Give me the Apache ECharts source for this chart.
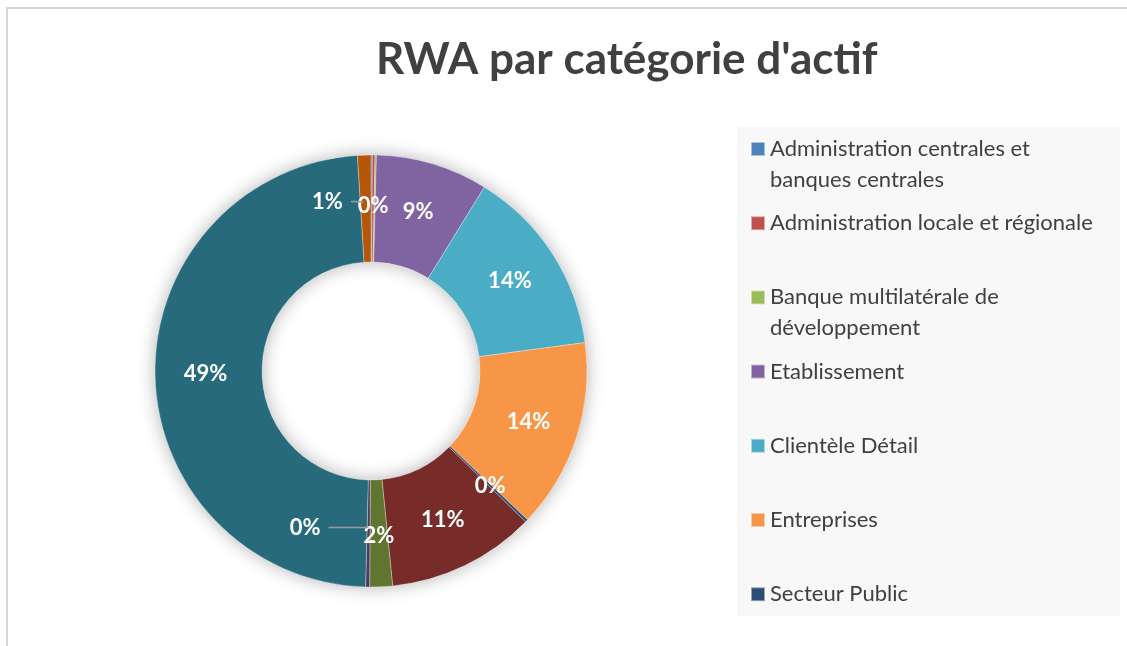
<!DOCTYPE html>
<html>
<head>
<meta charset="utf-8">
<script src="https://cdn.jsdelivr.net/npm/echarts@6/dist/echarts.min.js"></script>
<style>
  html, body { margin: 0; padding: 0; background: #fff; }
  #chart { width: 1127px; height: 646px; }
</style>
</head>
<body>
<div id="chart"></div>
<script>
const categories = [
  'Administration centrales et banques centrales',
  'Administration locale et régionale',
  'Banque multilatérale de développement',
  'Etablissement',
  'Clientèle Détail',
  'Entreprises',
  'Secteur Public',
  'Expositions garanties par une hypothèque',
  'Expositions en défaut',
  'Expositions à risque élevé',
  'Autres actifs',
  'Actions'
]
const values = [0.1, 0.2, 0.1, 8.4, 14.1, 14.2, 0.2, 11.1, 1.7, 0.3, 48.6, 1.0]
const colors = ['#4F81BD', '#C0504D', '#9BBB59', '#8064A2', '#4BACC6', '#F79646',
  '#2C4D75', '#772C2A', '#5F7530', '#4D3B62', '#276A7C', '#B65708']
// la légende d'origine ne montre que les 7 premières catégories
const legendNames = categories.slice(0, 7)
const wrapped = {
  'Administration centrales et banques centrales': 'Administration centrales et\nbanques centrales',
  'Banque multilatérale de développement': 'Banque multilatérale de\ndéveloppement'
}
const hiddenLabels = [0, 2]   // superposées avec celle de l'index 1

const CX = 371, CY = 371, R0 = 109, R1 = 216
const total = values.reduce((a, b) => a + b, 0)

// milieu de l'anneau pour la part i
function midPoint (i) {
  let before = 0
  for (let k = 0; k < i; k++) before += values[k]
  const a = (before + values[i] / 2) / total * Math.PI * 2
  const r = (R0 + R1) / 2
  return [CX + r * Math.sin(a), CY - r * Math.cos(a)]
}

const labelFont = { fontFamily: 'Lato', fontWeight: 'bold', fontSize: 22, color: '#fff' }

const chart = echarts.init(document.getElementById('chart'))

const option = {
  backgroundColor: '#fff',
  title: {
    text: "RWA par catégorie d'actif",
    left: 376,
    top: 38,
    padding: 0,
    textStyle: { fontFamily: 'Lato', fontWeight: 'bold', fontSize: 44, color: '#404040' }
  },
  graphic: [
    { type: 'rect', z: 0, silent: true, shape: { x: 7, y: 8, width: 1400, height: 1000 },
      style: { fill: 'none', stroke: '#c8c8c8', lineWidth: 1.5 } },
    { type: 'rect', z: 0, silent: true, shape: { x: 737, y: 127, width: 383, height: 489 },
      style: { fill: '#f8f8f8' } },
    { type: 'ring', z: 0, silent: true, shape: { cx: CX, cy: CY, r: R1, r0: R0 },
      style: { fill: '#fff', shadowBlur: 18, shadowColor: 'rgba(0,0,0,0.3)' } }
  ],
  legend: legendNames.map((name, i) => {
    const twoLines = !!wrapped[name]
    const iconY = 149 + i * 74.2
    return {
      data: [name],
      orient: 'vertical',
      left: 750,
      top: iconY - (twoLines ? 46.5 : 15.5),
      padding: 0,
      itemWidth: 14,
      itemHeight: 14,
      icon: 'rect',
      selectedMode: false,
      // ligne vide en tête : la 1re ligne du texte reste centrée sur le carré
      formatter: n => wrapped[n] ? '\n' + wrapped[n] : n,
      textStyle: { fontFamily: 'Lato', fontSize: 22, color: '#404040', lineHeight: 31 }
    }
  }),
  series: [{
    type: 'pie',
    center: [CX, CY],
    radius: [R0, R1],
    startAngle: 90,
    clockwise: true,
    percentPrecision: 0,
    avoidLabelOverlap: false,
    emphasis: { scale: false },
    itemStyle: { borderColor: 'rgba(255,255,255,0.5)', borderWidth: 0.6 },
    label: {
      show: true,
      position: 'inside',
      formatter: function (p) {
        if (p.dataIndex === 11 || p.dataIndex === 9) return '{v|' + p.percent + '%}{g|}{l|}'
        return '{v|' + p.percent + '%}'
      },
      rich: {
        v: labelFont,
        g: { width: 8, height: 2 },
        l: { width: 12, height: 1.6, backgroundColor: '#9a9a9a' }
      }
    },
    labelLine: { show: false },
    labelLayout: function (params) {
      const i = params.dataIndex
      if (i === 11) {
        const [x, y] = midPoint(i)
        return { x: x - 3, y: y - 7, align: 'right', verticalAlign: 'middle' }
      }
      if (i === 9) {
        const [x, y] = midPoint(i)
        return { x: x, y: y - 6, align: 'right', verticalAlign: 'middle' }
      }
      return {}
    },
    data: categories.map((name, i) => ({
      name: name,
      value: values[i],
      itemStyle: { color: colors[i] },
      label: hiddenLabels.includes(i) ? { show: false }
        : (i === 9 ? { rich: { l: { width: 40 } } } : undefined)
    }))
  }]
}

chart.setOption(option)
</script>
</body>
</html>
